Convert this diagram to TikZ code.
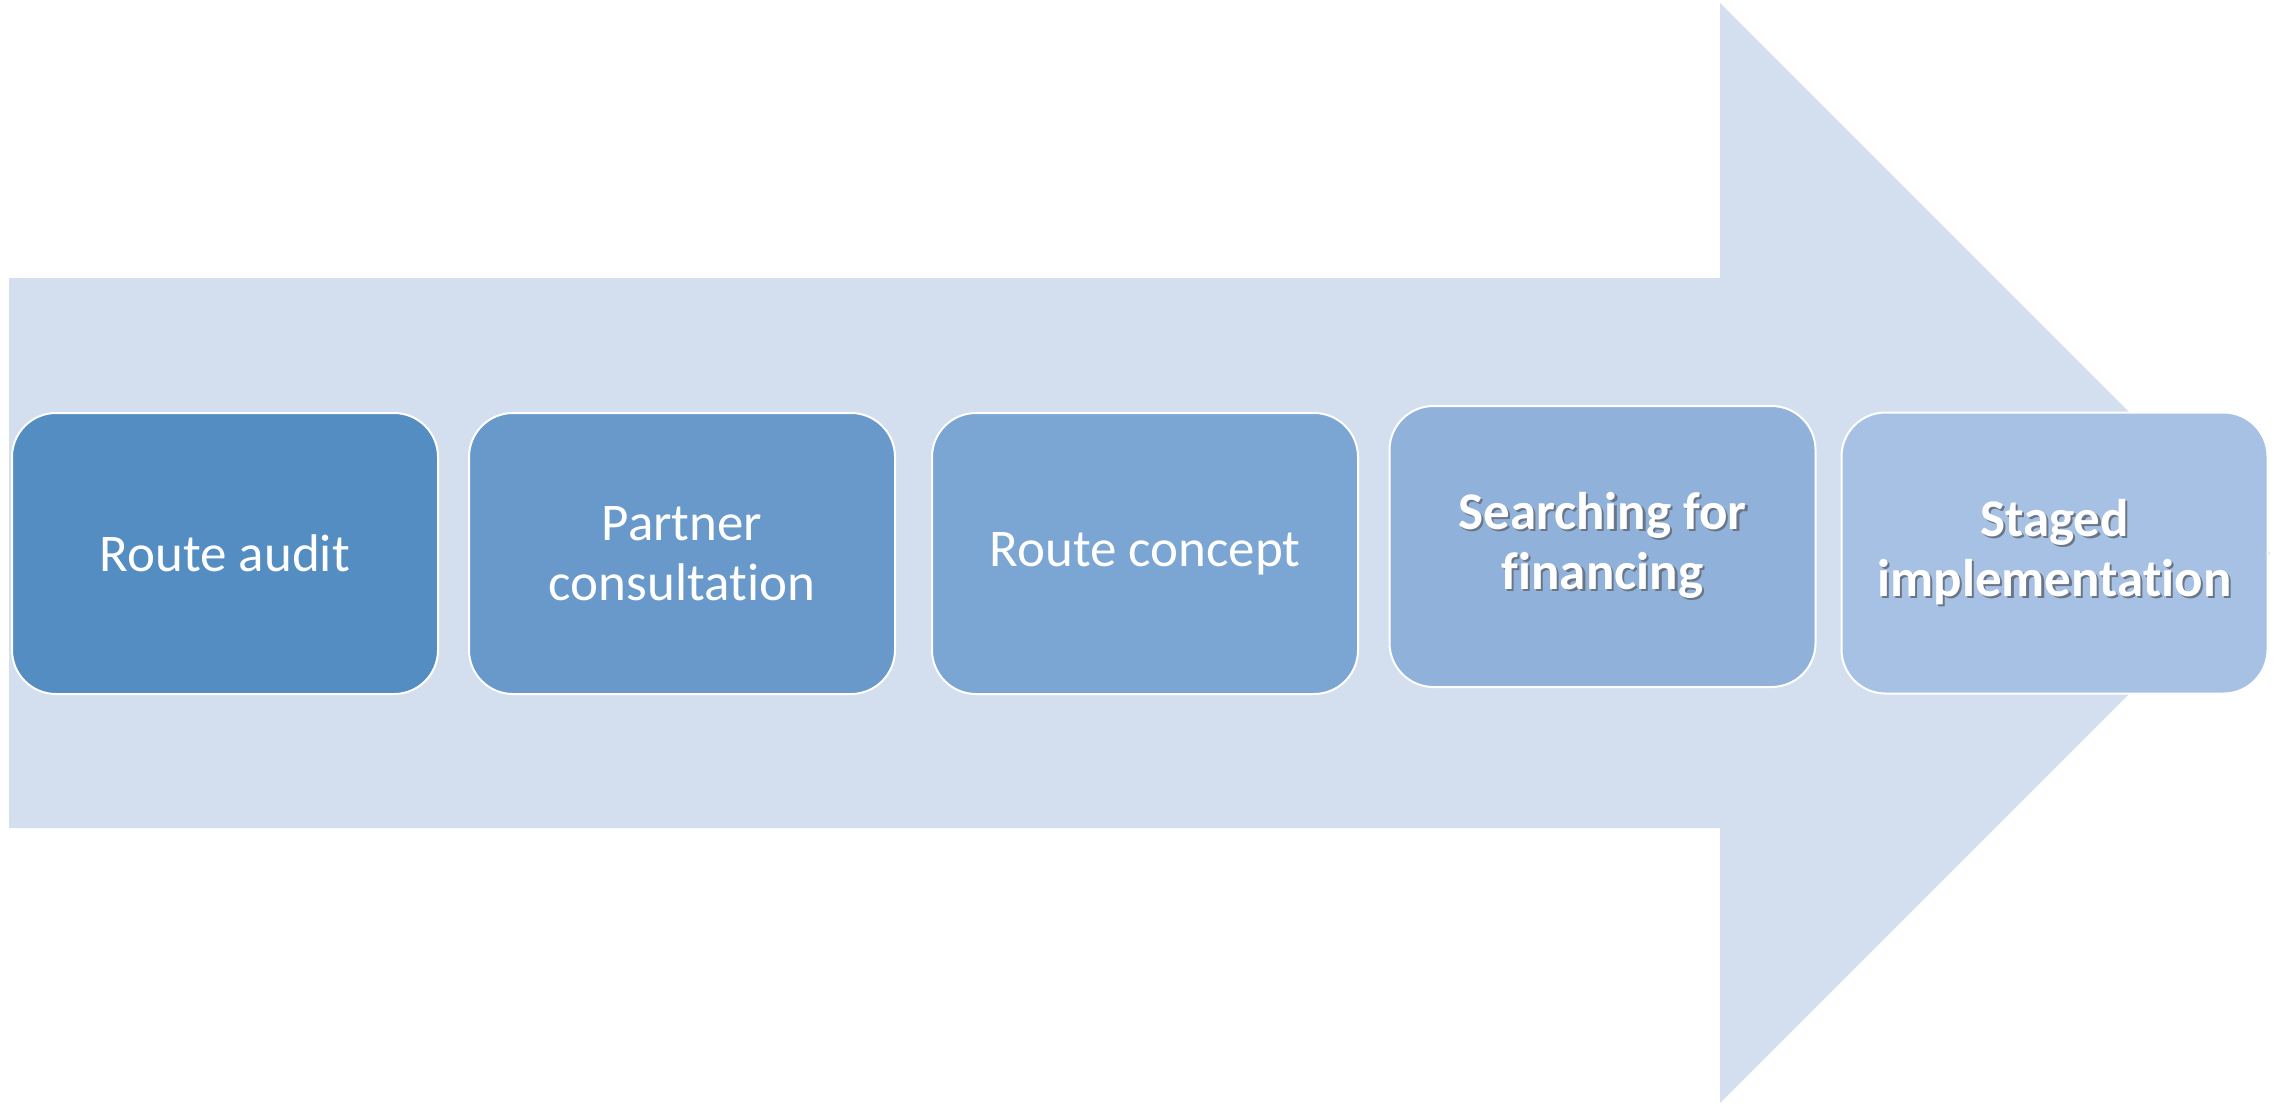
\documentclass[tikz,border=0pt]{standalone}
\usepackage{fontspec}
\setmainfont{Carlito}[Ligatures=NoCommon]
\usetikzlibrary{positioning}
\definecolor{arrowfill}{HTML}{D3DEEF}
\definecolor{stageA}{HTML}{548DC2}
\definecolor{stageB}{HTML}{6899CA}
\definecolor{stageC}{HTML}{7BA5D2}
\definecolor{stageD}{HTML}{90B2DA}
\definecolor{stageE}{HTML}{A6C1E4}
\definecolor{shadowgray}{HTML}{6A7686}
\tikzset{
  every node/.append style={font=\fontsize{26.5}{30}\selectfont},
  stagebox/.style={draw=white, line width=1pt, rounded corners=22pt,
    minimum width=213pt, minimum height=140.5pt, text=white, align=center},
  boldstage/.style={stagebox, font=\fontsize{26.5}{30}\selectfont\bfseries},
  bigarrow/.style={fill=arrowfill, draw=none}
}
% white text with a soft grey copy behind it
\newcommand\shad[1]{\leavevmode\rlap{\kern1.1pt\raisebox{-1.1pt}{\color{shadowgray}#1}}#1}
\newcommand\stage[4][]{
  % #1 (optional) - fill and extra style
  % #2 - Tikz name
  % #3 - Location
  % #4 - Body
  \node [stagebox, #1] at (#3) (#2) {#4};
}

\begin{document}
\begin{tikzpicture}[x=0.5pt, y=-0.5pt]
  \useasboundingbox (0,0) rectangle (2279,1109);

  % the arrow behind the stages
  \fill[bigarrow] (9,278) -- (1720,278) -- (1720,3) -- (2270,553)
    -- (1720,1103) -- (1720,828) -- (9,828) -- cycle;

  \stage[fill=stageA]{audit}{225,553.5}{Route audit}
  \stage[fill=stageB]{consult}{682,553.5}{Partner\\consultation}
  \stage[fill=stageC]{concept}{1145,553.5}{Route concept}
  \stage[boldstage, fill=stageD]{financing}{1602.5,546.5}{\shad{Searching for}\\\shad{financing}}
  \stage[boldstage, fill=stageE]{implement}{2054.5,553}{\shad{Staged}\\\shad{implementation}}
\end{tikzpicture}
\end{document}
